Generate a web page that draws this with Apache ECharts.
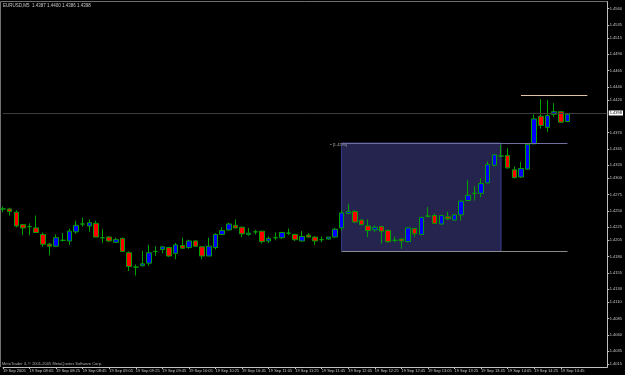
<!DOCTYPE html>
<html>
<head>
<meta charset="utf-8">
<script src="https://cdn.jsdelivr.net/npm/echarts@6/dist/echarts.min.js"></script>
<style>html,body{margin:0;padding:0;background:#000;}#c{width:625px;height:375px;}</style>
</head>
<body>
<div id="c"></div>
<script>
// ---- DATA ----
const categories = [
"07:45","07:50","07:55","08:00","08:05","08:10","08:15","08:20","08:25","08:30","08:35","08:40",
"08:45","08:50","08:55","09:00","09:05","09:10","09:15","09:20","09:25","09:30","09:35","09:40",
"09:45","09:50","09:55","10:00","10:05","10:10","10:15","10:20","10:25","10:30","10:35","10:40",
"10:45","10:50","10:55","11:00","11:05","11:10","11:15","11:20","11:25","11:30","11:35","11:40",
"11:45","11:50","11:55","12:00","12:05","12:10","12:15","12:20","12:25","12:30","12:35","12:40",
"12:45","12:50","12:55","13:00","13:05","13:10","13:15","13:20","13:25","13:30","13:35","13:40",
"13:45","13:50","13:55","14:00","14:05","14:10","14:15","14:20","14:25","14:30","14:35","14:40",
"14:45","14:50","14:55","15:00","15:05","15:10","15:15","15:20"
];
const openP = [
1.4253,1.4253,1.4248,1.4229,1.4226,1.4224,1.4214,1.4199,1.4196,1.4205,1.4204,1.4218,
1.4230,1.4227,1.4231,1.4209,1.4210,1.4202,1.4208,1.4186,1.4164,1.4166,1.4170,1.4188,
1.4191,1.4194,1.4185,1.4197,1.4194,1.4204,1.4195,1.4181,1.4194,1.4214,1.4221,1.4228,
1.4225,1.4214,1.4218,1.4219,1.4204,1.4209,1.4209,1.4216,1.4214,1.4204,1.4213,1.4210,
1.4206,1.4207,1.4210,1.4224,1.4246,1.4249,1.4236,1.4227,1.4221,1.4226,1.4220,1.4205,
1.4207,1.4203,1.4223,1.4214,1.4242,1.4243,1.4230,1.4241,1.4236,1.4244,1.4266,1.4277,
1.4277,1.4293,1.4320,1.4334,1.4335,1.4313,1.4302,1.4314,1.4353,1.4395,1.4378,1.4398,
1.4402,1.4387
];
const closeP = [
1.4253,1.4249,1.4227,1.4224,1.4226,1.4217,1.4199,1.4196,1.4209,1.4205,1.4219,1.4228,
1.4230,1.4232,1.4210,1.4209,1.4204,1.4206,1.4188,1.4165,1.4164,1.4169,1.4186,1.4188,
1.4195,1.4181,1.4198,1.4193,1.4204,1.4196,1.4181,1.4196,1.4214,1.4220,1.4230,1.4224,
1.4215,1.4216,1.4218,1.4203,1.4208,1.4209,1.4217,1.4216,1.4206,1.4211,1.4210,1.4204,
1.4206,1.4210,1.4222,1.4247,1.4249,1.4233,1.4229,1.4220,1.4225,1.4219,1.4203,1.4205,
1.4204,1.4224,1.4215,1.4240,1.4242,1.4231,1.4243,1.4238,1.4244,1.4265,1.4274,1.4277,
1.4292,1.4321,1.4336,1.4334,1.4316,1.4301,1.4315,1.4352,1.4391,1.4381,1.4396,1.4402,
1.4386,1.4398
];
const lowP = [
1.4248,1.4243,1.4225,1.4213,1.4213,1.4217,1.4195,1.4182,1.4195,1.4203,1.4198,1.4215,
1.4226,1.4218,1.4210,1.4201,1.4203,1.4201,1.4187,1.4158,1.4151,1.4165,1.4166,1.4181,
1.4185,1.4180,1.4176,1.4192,1.4192,1.4195,1.4176,1.4181,1.4191,1.4213,1.4220,1.4223,
1.4210,1.4212,1.4214,1.4200,1.4201,1.4205,1.4207,1.4213,1.4204,1.4203,1.4209,1.4198,
1.4202,1.4206,1.4209,1.4220,1.4246,1.4232,1.4228,1.4210,1.4218,1.4200,1.4201,1.4202,
1.4192,1.4202,1.4210,1.4213,1.4240,1.4230,1.4229,1.4236,1.4235,1.4235,1.4265,1.4266,
1.4271,1.4292,1.4318,1.4333,1.4315,1.4300,1.4301,1.4313,1.4352,1.4376,1.4371,1.4394,
1.4385,1.4386
];
const highP = [
1.4257,1.4255,1.4251,1.4229,1.4231,1.4243,1.4217,1.4201,1.4214,1.4216,1.4223,1.4235,
1.4240,1.4237,1.4235,1.4222,1.4211,1.4209,1.4209,1.4188,1.4168,1.4189,1.4198,1.4196,
1.4196,1.4195,1.4201,1.4209,1.4206,1.4205,1.4196,1.4209,1.4216,1.4225,1.4232,1.4237,
1.4226,1.4224,1.4221,1.4219,1.4211,1.4217,1.4218,1.4223,1.4215,1.4219,1.4216,1.4211,
1.4211,1.4210,1.4224,1.4251,1.4261,1.4251,1.4237,1.4237,1.4228,1.4227,1.4222,1.4211,
1.4208,1.4225,1.4224,1.4241,1.4256,1.4246,1.4244,1.4249,1.4246,1.4266,1.4297,1.4288,
1.4300,1.4326,1.4337,1.4351,1.4346,1.4318,1.4325,1.4353,1.4398,1.4421,1.4420,1.4415,
1.4403,1.4400
];
const xTickLabels = [
"19 Sep 2005","19 Sep 08:05","19 Sep 08:25","19 Sep 08:45","19 Sep 09:05","19 Sep 09:25",
"19 Sep 09:45","19 Sep 10:05","19 Sep 10:25","19 Sep 10:45","19 Sep 11:05","19 Sep 11:25",
"19 Sep 11:45","19 Sep 12:05","19 Sep 12:25","19 Sep 12:45","19 Sep 13:05","19 Sep 13:25",
"19 Sep 13:45","19 Sep 14:05","19 Sep 14:25","19 Sep 14:45"
];
const yTickValues = [1.4560,1.4535,1.4515,1.4490,1.4465,1.4440,1.4420,1.4370,1.4345,1.4320,1.4300,
1.4275,1.4250,1.4225,1.4205,1.4180,1.4155,1.4130,1.4110,1.4085,1.4060,1.4035,1.4015];
const currentPrice = 1.4398;
const boxTop = 1.4354, boxBottom = 1.4188;
const boxStart = "12:00", boxEnd = "14:00", levelEnd = "14:50";
const upperLevel = 1.4427, upperStart = "14:15", upperEnd = "15:05";
const titleText = "EURUSD,M5  1.4387 1.4400 1.4386 1.4398";
const boxLabel = "\u25aa [1.4293]";

// ---- CHART ----
const ohlc = openP.map((o, i) => [o, closeP[i], lowP[i], highP[i]]);
const font = 'Liberation Sans';
const green = '#00a000';
const chart = echarts.init(document.getElementById('c'), null, {renderer: 'canvas'});
chart.setOption({
  backgroundColor: '#000000',
  animation: false,
  title: [
    {text: titleText, left: 3, top: 3, padding: 0, textStyle: {fontSize: 4.5, color: '#c8c8c8', fontWeight: 'normal', fontFamily: font}},
    {text: 'MetaTrader 4, \u00a9 2001-2005 MetaQuotes Software Corp.', left: 2, top: 362, padding: 0, textStyle: {fontSize: 4, color: '#b0b0b0', fontWeight: 'normal', fontFamily: font}}
  ],
  grid: {left: 1.7, right: 16.6, top: 2, bottom: 8},
  xAxis: {
    type: 'category', data: categories, boundaryGap: false,
    axisLine: {lineStyle: {color: '#c0c0c0', width: 1}},
    axisTick: {show: true, length: 2, interval: (i) => i % 4 === 0 && i <= 84, lineStyle: {color: '#c0c0c0'}},
    axisLabel: {
      interval: (i) => i % 4 === 0 && i <= 84,
      formatter: (v, i) => xTickLabels[i / 4] || '',
      align: 'left', fontSize: 4, color: '#c8c8c8', margin: 1.5, fontFamily: font
    },
    splitLine: {show: false}
  },
  yAxis: {
    type: 'value', position: 'right', min: 1.4011, max: 1.4570, scale: true,
    axisLine: {show: true, lineStyle: {color: '#c0c0c0', width: 1}},
    axisTick: {show: true, length: 2, customValues: yTickValues, lineStyle: {color: '#c0c0c0'}},
    axisLabel: {customValues: yTickValues, formatter: (v) => v.toFixed(4), fontSize: 4, color: '#c8c8c8', margin: 2.5, fontFamily: font},
    splitLine: {show: false}
  },
  graphic: [
    {type: 'polyline', shape: {points: [[0.5, 367], [0.5, 1.5], [608, 1.5]]}, style: {stroke: '#707070', fill: null, lineWidth: 1}, silent: true}
  ],
  series: [
    {
      type: 'line', data: [], z: 1, silent: true,
      markArea: {
        silent: true,
        itemStyle: {color: '#24244f', borderColor: '#3c3c8c', borderWidth: 1},
        label: {show: true, position: [-11, 0.5], formatter: boxLabel, fontSize: 4, color: '#a8a8a8', fontFamily: font},
        data: [[{xAxis: boxStart, yAxis: boxTop}, {xAxis: boxEnd, yAxis: boxBottom}]]
      },
      markLine: {
        silent: true, symbol: ['none', 'none'], animation: false,
        label: {show: false},
        data: [
          [{coord: [boxStart, boxTop], lineStyle: {color: '#7070a0', width: 1, type: 'solid'}}, {coord: [levelEnd, boxTop]}],
          [{coord: [boxStart, boxBottom], lineStyle: {color: '#8a8a8a', width: 1, type: 'solid'}}, {coord: [levelEnd, boxBottom]}],
          [{coord: [upperStart, upperLevel], lineStyle: {color: '#e0c4a4', width: 1, type: 'solid'}}, {coord: [upperEnd, upperLevel]}],
          {yAxis: currentPrice, lineStyle: {color: '#3c3c3c', width: 1, type: 'solid'},
           label: {show: true, position: 'end', formatter: currentPrice.toFixed(4), backgroundColor: '#ffffff', color: '#000000', fontSize: 4, padding: [0.5, 1], distance: 1.5, fontFamily: font}}
        ]
      }
    },
    {
      type: 'candlestick', data: ohlc, z: 3, barWidth: 5,
      itemStyle: {color: '#0000ff', color0: '#ff0000', borderColor: green, borderColor0: green, borderColorDoji: green, borderWidth: 1}
    }
  ]
});
</script>
</body>
</html>
